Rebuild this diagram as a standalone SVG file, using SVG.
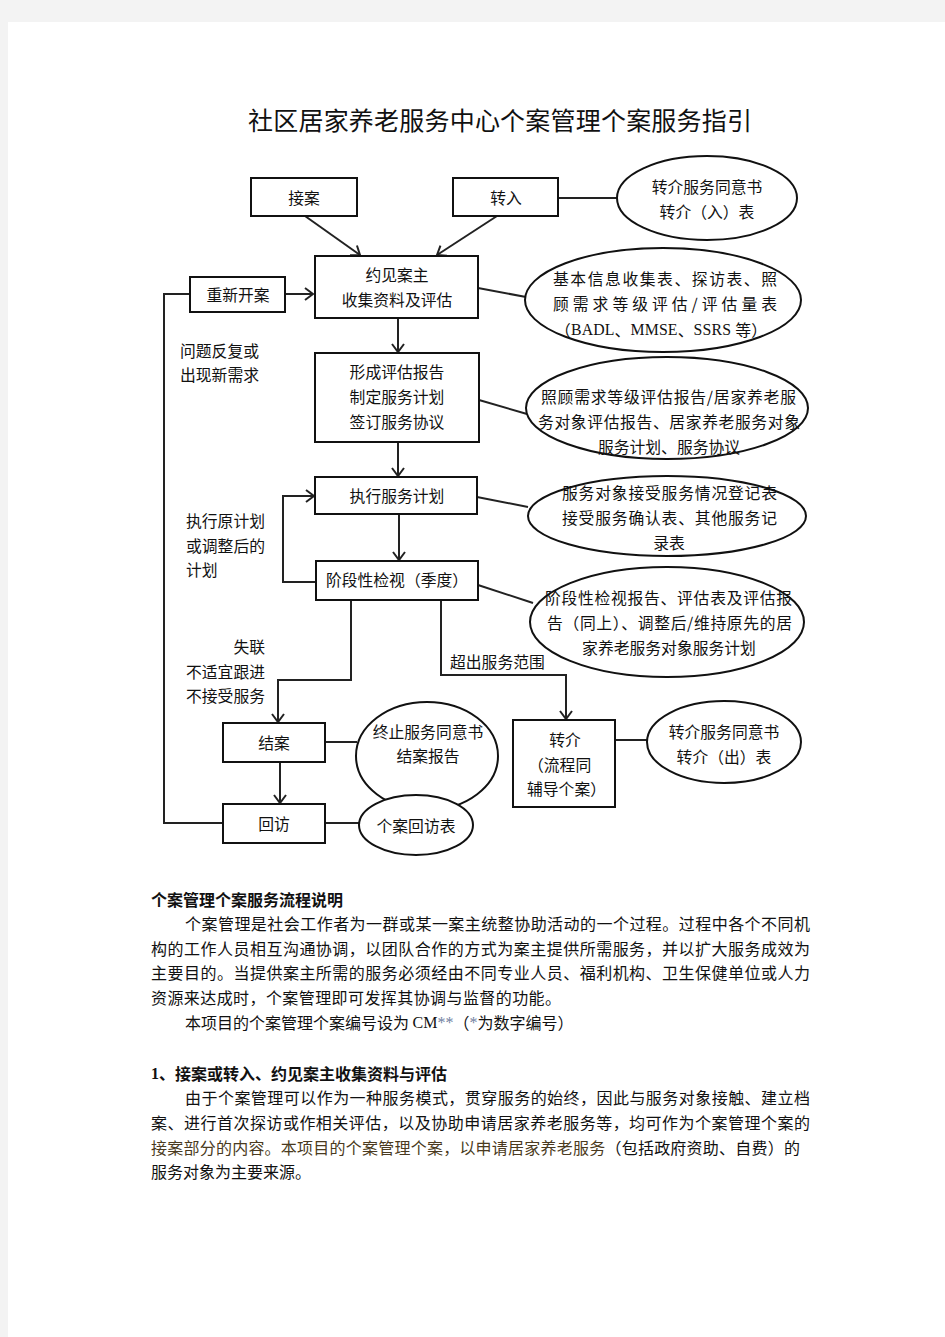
<svg xmlns="http://www.w3.org/2000/svg" width="945" height="1337" viewBox="0 0 945 1337">
<style>
.bx{fill:#fff;stroke:#111;stroke-width:2}
.el{fill:#fff;stroke:#111;stroke-width:2}
.ln{fill:none;stroke:#222;stroke-width:2}
.t{font-family:"Noto Sans CJK SC","Noto Sans",sans-serif;font-size:15.8px;fill:#111;dominant-baseline:central}
.c{text-anchor:middle}
.e{text-anchor:end}
.p{font-family:"Noto Sans CJK SC","Noto Sans",sans-serif;font-size:16px;fill:#111;dominant-baseline:central}
.h{font-weight:bold}
.title{font-family:"Noto Sans CJK SC","Noto Sans",sans-serif;font-size:25px;fill:#111;dominant-baseline:central}
.lat{font-family:"Liberation Serif",serif}
</style>
<defs>
<marker id="arr" markerUnits="userSpaceOnUse" markerWidth="18" markerHeight="18" viewBox="-9 -9 18 18" refX="0" refY="0" orient="auto">
<path d="M-8,-6 L0,0 L-8,6" fill="none" stroke="#222" stroke-width="2"/>
</marker>
</defs>
<rect x="0" y="0" width="945" height="1337" fill="#f3f3f3"/>
<rect x="8" y="22" width="937" height="1315" fill="#fff"/>
<text class="title" x="248" y="119" textLength="504" lengthAdjust="spacing">社区居家养老服务中心个案管理个案服务指引</text>

<g id="connectors">
<line class="ln" x1="305" y1="216" x2="360" y2="255" marker-end="url(#arr)"/>
<line class="ln" x1="497" y1="216" x2="437" y2="255" marker-end="url(#arr)"/>
<line class="ln" x1="558" y1="198" x2="617" y2="198"/>
<line class="ln" x1="285" y1="294" x2="313" y2="294" marker-end="url(#arr)"/>
<line class="ln" x1="478" y1="288" x2="526" y2="297"/>
<line class="ln" x1="398" y1="318" x2="398" y2="352" marker-end="url(#arr)"/>
<line class="ln" x1="479" y1="400" x2="527" y2="414"/>
<line class="ln" x1="398" y1="442" x2="398" y2="476" marker-end="url(#arr)"/>
<line class="ln" x1="477" y1="497" x2="528" y2="507"/>
<line class="ln" x1="399" y1="514" x2="399" y2="560" marker-end="url(#arr)"/>
<polyline class="ln" points="316,582 283,582 283,496 314,496" marker-end="url(#arr)"/>
<line class="ln" x1="478" y1="585" x2="533" y2="603"/>
<polyline class="ln" points="351,600 351,680 278,680 278,722" marker-end="url(#arr)"/>
<polyline class="ln" points="441,600 441,675 566,675 566,719" marker-end="url(#arr)"/>
<line class="ln" x1="325" y1="742" x2="357" y2="742"/>
<line class="ln" x1="280" y1="762" x2="280" y2="803" marker-end="url(#arr)"/>
<line class="ln" x1="325" y1="823" x2="360" y2="823"/>
<line class="ln" x1="615" y1="740" x2="648" y2="740"/>
<polyline class="ln" points="223,823 164,823 164,294 190,294"/>
</g>

<g id="n-jiean"><rect class="bx" x="251" y="178" width="106" height="38"/><text class="t c" x="304" y="197">接案</text></g>
<g id="n-zhuanru"><rect class="bx" x="453" y="178" width="105" height="38"/><text class="t c" x="506" y="197">转入</text></g>
<g id="e-zhuanru"><ellipse class="el" cx="707" cy="198" rx="90" ry="42"/><text class="t c" x="707" y="186">转介服务同意书</text><text class="t c" x="707" y="211">转介（入）表</text></g>
<g id="n-yuejian"><rect class="bx" x="315" y="256" width="163" height="62"/><text class="t c" x="397" y="274">约见案主</text><text class="t c" x="397" y="299">收集资料及评估</text></g>
<g id="n-chongxin"><rect class="bx" x="190" y="277" width="95" height="35"/><text class="t c" x="238" y="294">重新开案</text></g>
<g id="e-jiben"><ellipse class="el" cx="663" cy="300" rx="138" ry="52"/>
<text class="t" x="553" y="278" textLength="224" lengthAdjust="spacing">基本信息收集表、探访表、照</text>
<text class="t" x="553" y="303" textLength="224" lengthAdjust="spacing">顾需求等级评估/评估量表</text>
<text class="t" x="555" y="329" textLength="212" lengthAdjust="spacing"><tspan>（</tspan><tspan class="lat">BADL</tspan><tspan>、</tspan><tspan class="lat">MMSE</tspan><tspan>、</tspan><tspan class="lat">SSRS </tspan><tspan>等）</tspan></text></g>
<g id="n-xingcheng"><rect class="bx" x="315" y="353" width="164" height="89"/><text class="t c" x="397" y="371">形成评估报告</text><text class="t c" x="397" y="396">制定服务计划</text><text class="t c" x="397" y="421">签订服务协议</text></g>
<g id="e-zhaogu"><ellipse class="el" cx="667" cy="408" rx="141" ry="51"/>
<text class="t" x="541" y="396" textLength="255" lengthAdjust="spacing">照顾需求等级评估报告/居家养老服</text>
<text class="t" x="538" y="421" textLength="262" lengthAdjust="spacing">务对象评估报告、居家养老服务对象</text>
<text class="t c" x="669" y="446">服务计划、服务协议</text></g>
<g id="n-zhixing"><rect class="bx" x="315" y="477" width="162" height="37"/><text class="t c" x="397" y="495">执行服务计划</text></g>
<g id="e-zhixing"><ellipse class="el" cx="667" cy="516" rx="139" ry="40"/>
<text class="t" x="562" y="492" textLength="215" lengthAdjust="spacing">服务对象接受服务情况登记表</text>
<text class="t" x="562" y="517" textLength="215" lengthAdjust="spacing">接受服务确认表、其他服务记</text>
<text class="t c" x="669" y="542">录表</text></g>
<g id="n-jieduan"><rect class="bx" x="316" y="561" width="162" height="39"/><text class="t c" x="397" y="579">阶段性检视（季度）</text></g>
<g id="e-jieduan"><ellipse class="el" cx="667" cy="622" rx="137" ry="55"/>
<text class="t" x="545" y="597" textLength="247" lengthAdjust="spacing">阶段性检视报告、评估表及评估报</text>
<text class="t" x="547" y="622" textLength="245" lengthAdjust="spacing">告（同上）、调整后/维持原先的居</text>
<text class="t c" x="669" y="647">家养老服务对象服务计划</text></g>
<g id="n-jiean2"><rect class="bx" x="223" y="723" width="102" height="39"/><text class="t c" x="274" y="742">结案</text></g>
<g id="e-jiean2"><ellipse class="el" cx="427" cy="756" rx="71" ry="54"/><text class="t c" x="428" y="731">终止服务同意书</text><text class="t c" x="428" y="755">结案报告</text></g>
<g id="n-huifang"><rect class="bx" x="223" y="804" width="102" height="39"/><text class="t c" x="274" y="823">回访</text></g>
<g id="e-huifang"><ellipse class="el" cx="416" cy="825" rx="57" ry="30"/><text class="t c" x="416" y="825">个案回访表</text></g>
<g id="n-zhuanjie"><rect class="bx" x="513" y="720" width="102" height="87"/><text class="t c" x="565" y="739">转介</text><text class="t" x="528" y="764">（流程同</text><text class="t" x="527" y="788">辅导个案）</text></g>
<g id="e-zhuanjie"><ellipse class="el" cx="724" cy="742" rx="77" ry="41"/><text class="t c" x="724" y="731">转介服务同意书</text><text class="t c" x="724" y="756">转介（出）表</text></g>

<g id="labels">
<text class="t" x="180" y="350">问题反复或</text>
<text class="t" x="180" y="374">出现新需求</text>
<text class="t" x="186" y="520">执行原计划</text>
<text class="t" x="186" y="545">或调整后的</text>
<text class="t" x="186" y="569">计划</text>
<text class="t e" x="265" y="646">失联</text>
<text class="t e" x="265" y="671">不适宜跟进</text>
<text class="t e" x="265" y="695">不接受服务</text>
<text class="t" x="450" y="661">超出服务范围</text>
</g>

<g id="body">
<text class="p h" x="151" y="899">个案管理个案服务流程说明</text>
<text class="p" x="185" y="923" textLength="625" lengthAdjust="spacing">个案管理是社会工作者为一群或某一案主统整协助活动的一个过程。过程中各个不同机</text>
<text class="p" x="151" y="948" textLength="659" lengthAdjust="spacing">构的工作人员相互沟通协调，以团队合作的方式为案主提供所需服务，并以扩大服务成效为</text>
<text class="p" x="151" y="972" textLength="659" lengthAdjust="spacing">主要目的。当提供案主所需的服务必须经由不同专业人员、福利机构、卫生保健单位或人力</text>
<text class="p" x="151" y="997" textLength="410" lengthAdjust="spacing">资源来达成时，个案管理即可发挥其协调与监督的功能。</text>
<text class="p" x="185" y="1022"><tspan>本项目的个案管理个案编号设为 </tspan><tspan class="lat">CM</tspan><tspan class="lat" fill="#7080a0">**</tspan><tspan>（</tspan><tspan class="lat" fill="#7080a0">*</tspan><tspan>为数字编号）</tspan></text>
<text class="p h" x="151" y="1073"><tspan class="lat">1</tspan><tspan>、接案或转入、约见案主收集资料与评估</tspan></text>
<text class="p" x="185" y="1097" textLength="625" lengthAdjust="spacing">由于个案管理可以作为一种服务模式，贯穿服务的始终，因此与服务对象接触、建立档</text>
<text class="p" x="151" y="1122" textLength="659" lengthAdjust="spacing">案、进行首次探访或作相关评估，以及协助申请居家养老服务等，均可作为个案管理个案的</text>
<text class="p" x="151" y="1147" textLength="649" lengthAdjust="spacing"><tspan fill="#4a3a20">接案部分的内容。本项目的个案管理个案，以申请居家养老服务</tspan><tspan>（包括政府资助、自费）的</tspan></text>
<text class="p" x="151" y="1171">服务对象为主要来源。</text>
</g>
</svg>
